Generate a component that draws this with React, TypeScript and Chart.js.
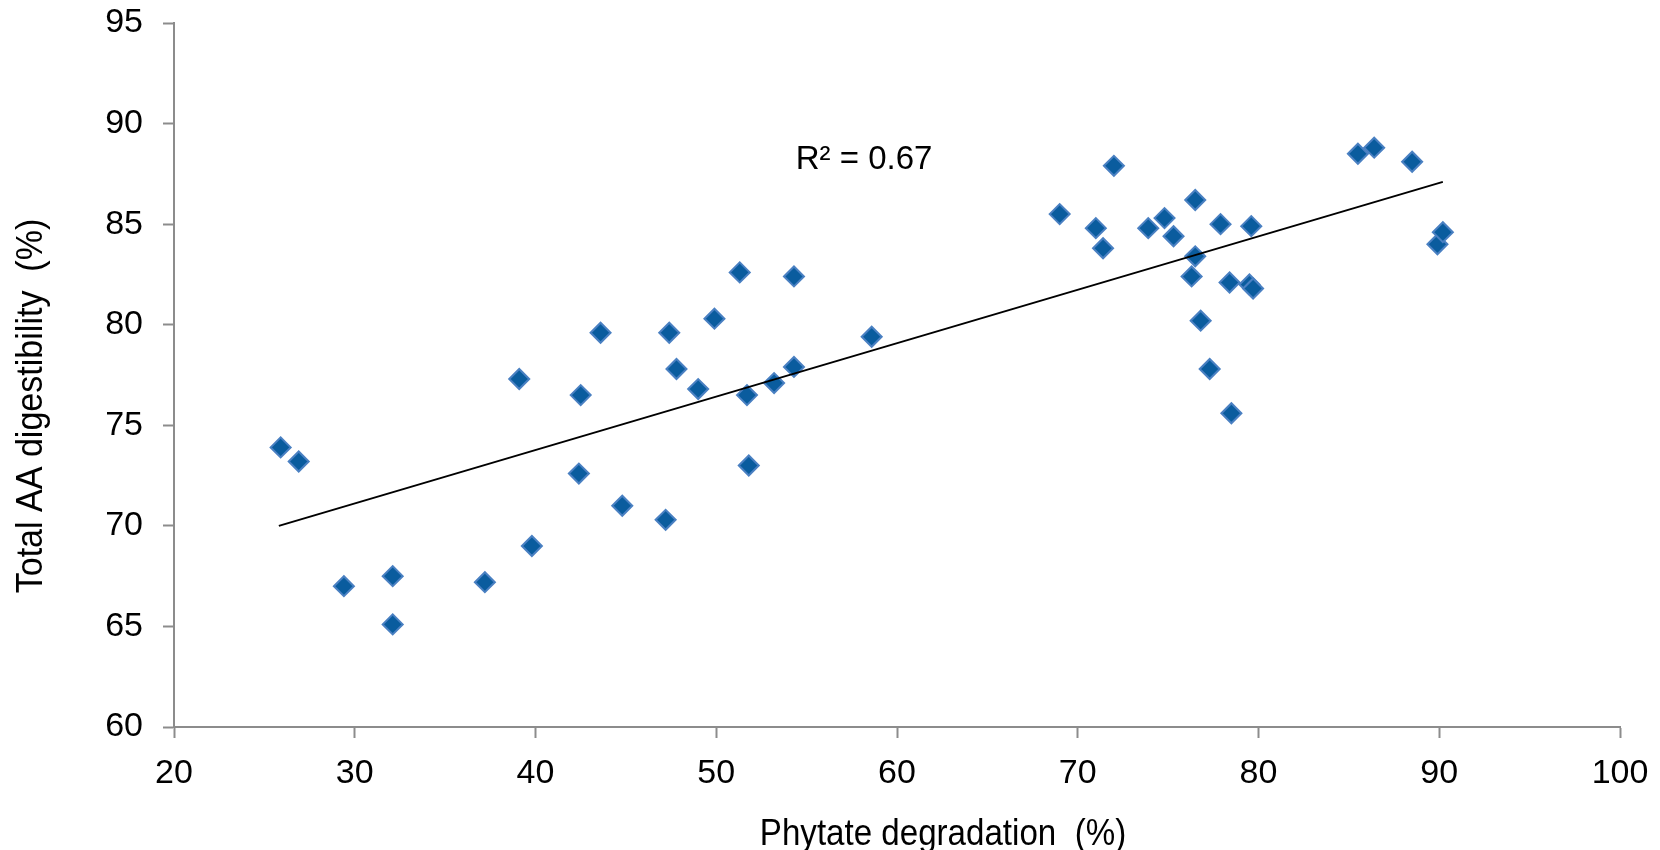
import React, { useEffect, useRef } from 'react';
import { Chart, registerables } from 'chart.js';

Chart.register(...registerables);

// Phytate degradation (%) – x values
const phytateDegradation = [
  25.9, 26.9, 29.4, 32.1, 32.1, 37.2, 39.1, 39.8, 42.4, 42.5,
  43.6, 44.8, 47.2, 47.4, 47.8, 49.0, 49.9, 51.3, 51.7, 51.8,
  53.2, 54.3, 54.3, 58.6, 69.0, 71.0, 71.4, 72.0, 73.9, 74.8,
  75.3, 76.5, 76.5, 76.3, 76.8, 77.3, 77.9, 78.4, 78.5, 79.5,
  79.7, 79.6, 85.5, 86.4, 88.5, 89.9, 90.2,
];
// Total AA digestibility (%) – y values
const aaDigestibility = [
  73.9, 73.2, 67.0, 67.5, 65.1, 67.2, 77.3, 69.0, 72.6, 76.5,
  79.6, 71.0, 70.3, 79.6, 77.8, 76.8, 80.3, 82.6, 76.5, 73.0,
  77.1, 82.4, 77.9, 79.4, 85.5, 84.8, 83.8, 87.9, 84.8, 85.3,
  84.4, 86.2, 83.4, 82.4, 80.2, 77.8, 85.0, 82.1, 75.6, 82.0,
  81.8, 84.9, 88.5, 88.8, 88.1, 84.0, 84.6,
];

// Linear trendline end points
const trendX = [25.8, 90.2];
const trendY = [70.0, 87.1];

const xTicks = [20, 30, 40, 50, 60, 70, 80, 90, 100];
const yTicks = [60, 65, 70, 75, 80, 85, 90, 95];

const r2Label = 'R² = 0.67';
const r2Pos = [54.4, 87.76];
const xTitle = 'Phytate degradation  (%)';
const yTitle = 'Total AA digestibility  (%)';

const FONT = '"Liberation Sans", Arial, Helvetica, sans-serif';
const AXIS_GRAY = '#8c8c8c';

const textPlugin = {
  id: 'customTexts',
  afterDraw(chart: any) {
    const { ctx, chartArea, scales } = chart;
    const xs = scales.x;
    const ys = scales.y;
    ctx.save();
    ctx.fillStyle = '#000000';

    // R² label
    ctx.font = `33px ${FONT}`;
    ctx.textAlign = 'left';
    ctx.textBaseline = 'alphabetic';
    ctx.fillText(r2Label, xs.getPixelForValue(r2Pos[0]), ys.getPixelForValue(r2Pos[1]));

    // X axis title (slightly condensed)
    ctx.font = `37px ${FONT}`;
    ctx.textAlign = 'center';
    ctx.save();
    ctx.translate((chartArea.left + chartArea.right) / 2 + 46, chartArea.bottom + 118);
    ctx.scale(0.895, 1);
    ctx.fillText(xTitle, 0, 0);
    ctx.restore();

    // Y axis title (rotated, slightly condensed)
    ctx.save();
    ctx.translate(42, (chartArea.top + chartArea.bottom) / 2 + 31);
    ctx.rotate(-Math.PI / 2);
    ctx.scale(0.92, 1);
    ctx.fillText(yTitle, 0, 0);
    ctx.restore();

    ctx.restore();
  },
};

export default function App() {
  const canvasRef = useRef<HTMLCanvasElement | null>(null);

  useEffect(() => {
    if (!canvasRef.current) return;
    const points = phytateDegradation.map((x, i) => ({ x, y: aaDigestibility[i] }));
    const trend = trendX.map((x, i) => ({ x, y: trendY[i] }));

    const chart = new Chart(canvasRef.current, {
      type: 'scatter',
      data: {
        datasets: [
          {
            label: 'Linear',
            data: trend,
            showLine: true,
            borderColor: '#000000',
            borderWidth: 2,
            pointRadius: 0,
            pointHoverRadius: 0,
            fill: false,
            order: 0,
          } as any,
          {
            label: 'Total AA digestibility',
            data: points,
            pointStyle: 'rectRot',
            pointRadius: 10,
            pointHoverRadius: 10,
            backgroundColor: '#0a5c9e',
            borderColor: '#4a80c2',
            borderWidth: 2,
            order: 1,
          } as any,
        ],
      },
      options: {
        responsive: false,
        animation: false,
        events: [],
        layout: { padding: { left: 0, right: 40, top: 23, bottom: 0 } },
        plugins: {
          legend: { display: false },
          tooltip: { enabled: false },
          title: { display: false },
        },
        scales: {
          x: {
            type: 'linear',
            min: 20,
            max: 100,
            afterFit: (s: any) => {
              s.height = 123;
              s.paddingLeft = 0;
              s.paddingRight = 0;
            },
            afterBuildTicks: (s: any) => { s.ticks = xTicks.map((v) => ({ value: v })); },
            ticks: {
              color: '#000000',
              font: { family: FONT, size: 34 },
              padding: 15,
            },
            grid: {
              display: true,
              drawOnChartArea: false,
              drawTicks: true,
              tickLength: 11,
              tickColor: AXIS_GRAY,
              tickWidth: 2,
            },
            border: { display: true, color: AXIS_GRAY, width: 2 },
          },
          y: {
            type: 'linear',
            min: 60,
            max: 95,
            afterFit: (s: any) => {
              s.width = 174;
              s.paddingTop = 0;
              s.paddingBottom = 0;
            },
            afterBuildTicks: (s: any) => { s.ticks = yTicks.map((v) => ({ value: v })); },
            ticks: {
              color: '#000000',
              font: { family: FONT, size: 34 },
              padding: 20,
            },
            grid: {
              display: true,
              drawOnChartArea: false,
              drawTicks: true,
              tickLength: 11,
              tickColor: AXIS_GRAY,
              tickWidth: 2,
            },
            border: { display: true, color: AXIS_GRAY, width: 2 },
          },
        },
      },
      plugins: [textPlugin],
    });

    return () => chart.destroy();
  }, []);

  return (
    <div style={{ position: 'absolute', left: 0, top: 0, width: 1660, height: 850, background: '#ffffff' }}>
      <canvas ref={canvasRef} width={1660} height={850} style={{ display: 'block', width: 1660, height: 850 }} />
    </div>
  );
}
